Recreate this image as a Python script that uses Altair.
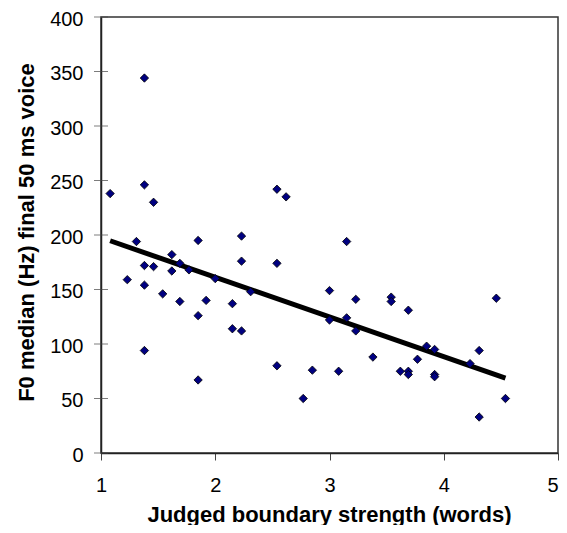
import altair as alt
import pandas as pd

# Judged boundary strength (words)
strength = [1.08, 1.23, 1.31, 1.38, 1.38, 1.38, 1.38, 1.38, 1.46, 1.46,
            1.54, 1.62, 1.62, 1.69, 1.69, 1.77, 1.85, 1.85, 1.85, 1.92,
            2.00, 2.15, 2.15, 2.23, 2.23, 2.23, 2.31, 2.54, 2.54, 2.54,
            2.62, 2.77, 2.85, 3.00, 3.00, 3.08, 3.15, 3.15, 3.23, 3.23,
            3.38, 3.54, 3.54, 3.62, 3.69, 3.69, 3.69, 3.77, 3.85, 3.92,
            3.92, 3.92, 4.23, 4.31, 4.31, 4.46, 4.54]
# F0 median (Hz) final 50 ms voice
f0 = [238, 159, 194, 344, 246, 172, 154, 94, 230, 171,
      146, 182, 167, 174, 139, 168, 195, 126, 67, 140,
      160, 137, 114, 199, 176, 112, 148, 242, 174, 80,
      235, 50, 76, 149, 122, 75, 194, 124, 141, 112,
      88, 143, 139, 75, 131, 75, 72, 86, 98, 95,
      72, 70, 82, 94, 33, 142, 50]

x_ticks = [1, 2, 3, 4, 5]
y_ticks = [0, 50, 100, 150, 200, 250, 300, 350, 400]

df = pd.DataFrame({"x": strength, "y": f0})
ticks_df = pd.DataFrame({"v": y_ticks})

FONT = "Liberation Sans"

xscale = alt.Scale(domain=[1, 5], nice=False, zero=False)
yscale = alt.Scale(domain=[0, 400], nice=False)

xaxis = alt.Axis(
    title="Judged boundary strength (words)", values=x_ticks, grid=False,
    format="d", labelFlush=False,
    labelAlign=alt.condition("datum.value == 5", alt.value("right"), alt.value("center")),
    domainColor="#222", domainWidth=1.5, tickColor="#444", tickSize=7,
    labelFont=FONT, labelFontSize=20, labelColor="#000", labelPadding=15,
    titleFont=FONT, titleFontSize=22, titleFontWeight="bold", titleColor="#000",
    titleX=228, titleY=68, titleBaseline="alphabetic", titleAnchor="middle",
)
yaxis = alt.Axis(
    title="F0 median (Hz) final 50 ms voice", values=y_ticks, grid=False,
    format="d", labelFlush=False, labelOffset=2,
    domainColor="#222", domainWidth=1.5, ticks=False, labelPadding=18,
    labelFont=FONT, labelFontSize=20, labelColor="#000",
    titleFont=FONT, titleFontSize=22, titleFontWeight="bold", titleColor="#000",
    titleX=-68, titleY=215, titleAngle=-90, titleBaseline="alphabetic",
    titleAlign="center",
)

base = alt.Chart(df)

points = base.mark_point(
    shape="diamond", filled=True, size=70, color="#000080",
    stroke="#000", strokeWidth=0.8, opacity=1,
).encode(
    x=alt.X("x:Q", scale=xscale, axis=xaxis),
    y=alt.Y("y:Q", scale=yscale, axis=yaxis),
)

trend = base.transform_regression("x", "y").mark_line(
    color="#000", strokeWidth=5
).encode(x=alt.X("x:Q", scale=xscale), y=alt.Y("y:Q", scale=yscale))

yt = alt.Chart(ticks_df).mark_tick(
    orient="horizontal", size=14, thickness=1, color="#444"
).encode(x=alt.datum(1, scale=xscale), y=alt.Y("v:Q", scale=yscale))

chart = alt.layer(yt, trend, points).properties(
    width=457, height=436,
    autosize=alt.AutoSizeParams(type="none"),
    padding={"left": 93, "top": 9, "right": 1, "bottom": 72},
).configure_view(
    stroke="#333", strokeWidth=1.5
)

chart.save("out.html", embed_options={"renderer": "svg", "actions": False})
